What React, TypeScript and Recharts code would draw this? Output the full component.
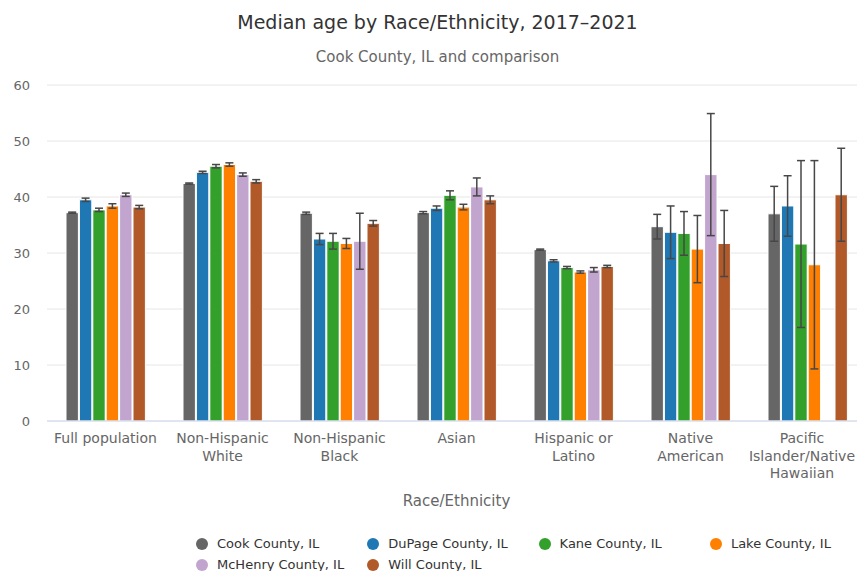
import React from 'react';
import { BarChart, Bar, XAxis, YAxis, CartesianGrid, ErrorBar } from 'recharts';

// Median age by race/ethnicity, 2017-2021 ACS, with margins of error
const categories = [
  'Full population',
  'Non-Hispanic White',
  'Non-Hispanic Black',
  'Asian',
  'Hispanic or Latino',
  'Native American',
  'Pacific Islander/Native Hawaiian',
];

// wrapped tick text, one entry per category
const categoryLines = [
  ['Full population'],
  ['Non-Hispanic', 'White'],
  ['Non-Hispanic', 'Black'],
  ['Asian'],
  ['Hispanic or', 'Latino'],
  ['Native', 'American'],
  ['Pacific', 'Islander/Native', 'Hawaiian'],
];

const counties = [
  'Cook County, IL',
  'DuPage County, IL',
  'Kane County, IL',
  'Lake County, IL',
  'McHenry County, IL',
  'Will County, IL',
];

const cook = [37.2, 42.4, 37.1, 37.2, 30.6, 34.7, 37.0];
const cookMoe = [0.1, 0.1, 0.2, 0.2, 0.1, 2.2, 4.9];

const dupage = [39.5, 44.4, 32.5, 38.0, 28.6, 33.7, 38.4];
const dupageMoe = [0.3, 0.2, 1.0, 0.4, 0.2, 4.7, 5.4];

const kane = [37.7, 45.5, 32.1, 40.3, 27.4, 33.5, 31.6];
const kaneMoe = [0.3, 0.3, 1.4, 0.8, 0.2, 3.9, 14.9];

const lake = [38.4, 45.8, 31.7, 38.2, 26.6, 30.7, 27.9];
const lakeMoe = [0.4, 0.3, 0.9, 0.5, 0.2, 6.0, 18.6];

const mchenry = [40.4, 44.0, 32.1, 41.8, 27.0, 44.0, null];
const mchenryMoe = [0.3, 0.3, 5.0, 1.6, 0.4, 10.9, null];

const will = [38.2, 42.8, 35.3, 39.5, 27.6, 31.7, 40.4];
const willMoe = [0.3, 0.3, 0.5, 0.7, 0.2, 5.9, 8.3];

const yTicks = [0, 10, 20, 30, 40, 50, 60];

const seriesValues = [cook, dupage, kane, lake, mchenry, will];
const seriesMoe = [cookMoe, dupageMoe, kaneMoe, lakeMoe, mchenryMoe, willMoe];
const seriesColors = ['#666666', '#1f78b4', '#33a02c', '#ff7f00', '#c2a5cf', '#b15928'];

const data = categories.map((name, i) => {
  const row: Record<string, string | number | null> = { name };
  seriesValues.forEach((vals, s) => {
    row[`v${s}`] = vals[i];
    row[`e${s}`] = seriesMoe[s][i];
  });
  return row;
});

const FONT = '"DejaVu Sans", sans-serif';
const VISIBLE_RIGHT = 855;

let measureCtx: CanvasRenderingContext2D | null = null;
function textWidth(text: string, size: number) {
  if (!measureCtx) measureCtx = document.createElement('canvas').getContext('2d');
  if (!measureCtx) return text.length * size * 0.6;
  measureCtx.font = `${size}px ${FONT}`;
  return measureCtx.measureText(text).width;
}

function CategoryTick({ x, y, payload }: any) {
  const lines: string[] = categoryLines[payload.index] || [payload.value];
  // keep the label block inside the visible area (justify like the axis does)
  const widest = Math.max(...lines.map((l) => textWidth(l, 14)));
  const cx = Math.min(x, VISIBLE_RIGHT - widest / 2);
  return (
    <text x={cx} y={y + 22} textAnchor="middle" fill="#666666" fontSize={14}>
      {lines.map((line, i) => (
        <tspan key={i} x={cx} dy={i === 0 ? 0 : 17.5}>
          {line}
        </tspan>
      ))}
    </text>
  );
}

function LegendBlock() {
  return (
    <>
      {counties.map((county, i) => {
        const col = i % 4;
        const row = Math.floor(i / 4);
        const cx = 202 + col * 171.3;
        const cy = 544 + row * 20.5;
        return (
          <div key={county}>
            <div
              style={{
                position: 'absolute',
                left: cx - 6,
                top: cy - 6,
                width: 12,
                height: 12,
                borderRadius: 6,
                background: seriesColors[i],
              }}
            />
            <div
              style={{
                position: 'absolute',
                left: cx + 15,
                top: cy - 9,
                fontSize: 13,
                lineHeight: '18px',
                color: '#333333',
                whiteSpace: 'nowrap',
              }}
            >
              {county}
            </div>
          </div>
        );
      })}
    </>
  );
}

export default function App() {
  return (
    <div
      style={{
        position: 'absolute',
        left: 0,
        top: 0,
        width: 857,
        height: 571,
        overflow: 'hidden',
        background: '#ffffff',
        fontFamily: FONT,
      }}
    >
      <div
        style={{
          position: 'absolute',
          left: 0,
          top: 12,
          width: 875,
          textAlign: 'center',
          fontSize: 19,
          lineHeight: '20px',
          color: '#333333',
        }}
      >
        Median age by Race/Ethnicity, 2017–2021
      </div>
      <div
        style={{
          position: 'absolute',
          left: 0,
          top: 48,
          width: 875,
          textAlign: 'center',
          fontSize: 15,
          lineHeight: '18px',
          color: '#666666',
        }}
      >
        Cook County, IL and comparison
      </div>

      <BarChart
        width={875}
        height={571}
        data={data}
        margin={{ top: 85, right: 9, bottom: 120, left: 0 }}
        barGap={1}
        barSize={12.4}
      >
        <CartesianGrid vertical={false} stroke="#e6e6e6" />
        <YAxis
          width={47}
          domain={[0, 60]}
          ticks={yTicks}
          axisLine={false}
          tickLine={false}
          tickSize={0}
          tickMargin={17}
          tick={{ fill: '#666666', fontSize: 13 }}
        />
        <XAxis
          dataKey="name"
          height={30}
          interval={0}
          axisLine={{ stroke: '#ccd6eb' }}
          tickLine={false}
          tickSize={0}
          tickMargin={0}
          tick={<CategoryTick />}
        />
        {counties.map((county, s) => (
          <Bar
            key={county}
            dataKey={`v${s}`}
            name={county}
            fill={seriesColors[s]}
            stroke="#ffffff"
            strokeWidth={1}
            isAnimationActive={false}
          >
            <ErrorBar
              dataKey={`e${s}`}
              width={4}
              stroke="#474747"
              strokeWidth={1.5}
              direction="y"
              isAnimationActive={false}
            />
          </Bar>
        ))}
      </BarChart>

      <div
        style={{
          position: 'absolute',
          left: 47,
          top: 492,
          width: 819,
          textAlign: 'center',
          fontSize: 15,
          lineHeight: '18px',
          color: '#666666',
        }}
      >
        Race/Ethnicity
      </div>

      <LegendBlock />
    </div>
  );
}
